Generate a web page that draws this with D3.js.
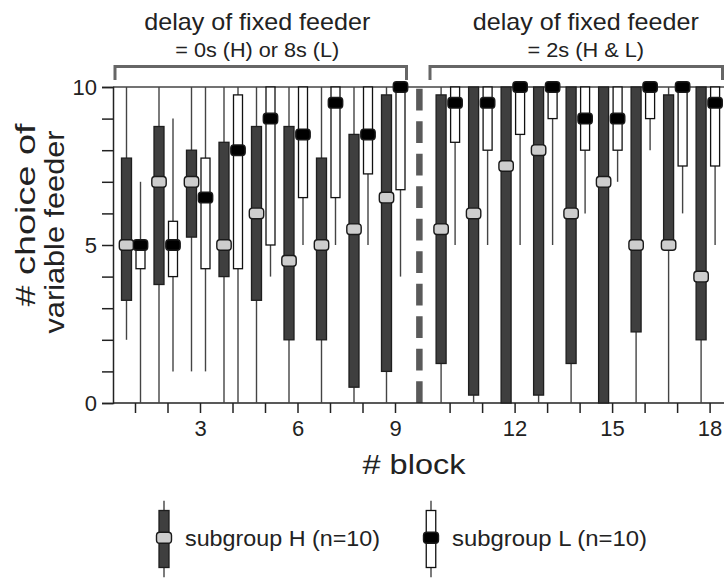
<!DOCTYPE html>
<html><head><meta charset="utf-8">
<script src="https://cdn.jsdelivr.net/npm/d3@7"></script>
<style>body{margin:0;background:#fff}svg{display:block;font-family:"Liberation Sans",Arial,sans-serif}</style>
</head><body><svg id="c" width="724" height="578"></svg>
<script>
const blocks = [1,2,3,4,5,6,7,8,9,10,11,12,13,14,15,16,17,18];
const hMin = [2,0,1,0,0,0,0,0,0, 0,0,0,0,0,0,0,0,0];
const hQ1  = [3.25,3.75,5.25,4,3.25,2,2,0.5,1, 1.25,0.25,0,0.25,1.25,0,2.25,5,2];
const hMed = [5,7,7,5,6,4.5,5,5.5,6.5, 5.5,6,7.5,8,6,7,5,5,4];
const hQ3  = [7.75,8.75,8,8.25,8.75,8.75,7.75,8.5,9.75, 9.75,10,10,10,10,10,10,9.75,10];
const hMax = [10,10,10,10,10,10,10,10,10, 10,10,10,10,10,10,10,10,10];
const lMin = [0,1,1,0,4,5,5,5,4, 5,5,5,5,6,7,8,6,5];
const lQ1  = [4.25,4,4.25,4.25,5,6.5,6.5,7.25,6.75, 8.25,8,8.5,9,8,8,9,7.5,7.5];
const lMed = [5,5,6.5,8,9,8.5,9.5,8.5,10, 9.5,9.5,10,10,9,9,10,10,9.5];
const lQ3  = [5,5.75,7.75,9.75,10,10,10,10,10, 10,10,10,10,10,10,10,10,10];
const lMax = [7,9,10,10,10,10,10,10,10, 10,10,10,10,10,10,10,10,10];
const xTickLabels = [3,6,9,12,15,18];
const yTickLabels = [0,5,10];
const phaseTitles = ["delay of fixed feeder","delay of fixed feeder"];
const phaseSubs = ["= 0s (H) or 8s (L)","= 2s (H & L)"];
const legendLabels = ["subgroup H (n=10)","subgroup L (n=10)"];

const svg = d3.select("#c");
const slot = b => b <= 9 ? b : b + 0.68;
const x = d3.scaleLinear().domain([1, 18.68]).range([135, 709.6]);
const y = d3.scaleLinear().domain([0, 10]).range([403, 87]);
const hOff = -8.5, lOff = 5.5;

// frame top line
svg.append("line").attr("x1", 113).attr("x2", 724).attr("y1", y(10)).attr("y2", y(10))
  .attr("stroke", "#444").attr("stroke-width", 1.5);

// dashed divider
svg.append("line").attr("x1", x(9.75)).attr("x2", x(9.75)).attr("y1", y(0)).attr("y2", y(10))
  .attr("stroke", "#5a5a5a").attr("stroke-width", 6.5).attr("stroke-dasharray", "21.7,10.8");

// axes
const yAxis = d3.axisLeft(y).tickValues(d3.range(0, 11)).tickSize(11).tickPadding(5)
  .tickFormat(d => yTickLabels.includes(d) ? d : "");
const gy = svg.append("g").attr("transform", "translate(113,0)").call(yAxis);
const xAxis = d3.axisBottom(x).tickValues(blocks.map(slot)).tickSize(10).tickPadding(7)
  .tickFormat((d, i) => xTickLabels.includes(blocks[i]) ? blocks[i] : "");
const gx = svg.append("g").attr("transform", "translate(0,403)").call(xAxis);
gx.select(".domain").attr("d", "M113,0H724");
[gx, gy].forEach(g => {
  g.select(".domain").attr("stroke", "#222").attr("stroke-width", 1.5);
  g.selectAll(".tick line").attr("stroke", "#222").attr("stroke-width", 1.5);
  g.selectAll(".tick text").attr("font-size", 22).attr("fill", "#222")
    .attr("font-family", "Liberation Sans, Arial, sans-serif");
});

// boxplots
function drawGroup(cls, off, mn, q1, md, q3, mx, bw, boxFill, boxStroke, medFill) {
  const g = svg.append("g").attr("class", cls);
  blocks.forEach((b, i) => {
    const cx = x(slot(b)) + off;
    if (mx[i] > q3[i]) g.append("line").attr("x1", cx).attr("x2", cx).attr("y1", y(q3[i])).attr("y2", y(mx[i]))
      .attr("stroke", "#444").attr("stroke-width", 1.4);
    if (mn[i] < q1[i]) g.append("line").attr("x1", cx).attr("x2", cx).attr("y1", y(q1[i])).attr("y2", y(mn[i]))
      .attr("stroke", "#444").attr("stroke-width", 1.4);
    g.append("rect").attr("x", cx - bw / 2).attr("width", bw)
      .attr("y", y(q3[i])).attr("height", Math.max(0.01, y(q1[i]) - y(q3[i])))
      .attr("fill", boxFill).attr("stroke", boxStroke).attr("stroke-width", 1.3);
  });
  blocks.forEach((b, i) => {
    const cx = x(slot(b)) + off;
    g.append("rect").attr("x", cx - 7.2).attr("width", 14.4).attr("y", y(md[i]) - 5.3).attr("height", 10.6)
      .attr("rx", 3.2).attr("fill", medFill).attr("stroke", "#1a1a1a").attr("stroke-width", 1.4);
  });
}
drawGroup("H", hOff, hMin, hQ1, hMed, hQ3, hMax, 10, "#3f3f3f", "#1e1e1e", "#cdcdcd");
drawGroup("L", lOff, lMin, lQ1, lMed, lQ3, lMax, 9, "#ffffff", "#111", "#000");

// brackets & titles
const br = [[115, 406.5], [430, 722.5]];
br.forEach(([a, b], i) => {
  svg.append("path").attr("d", `M${a},80V66.5H${b}V80`).attr("fill", "none")
    .attr("stroke", "#666").attr("stroke-width", 3);
  const cx = (a + b) / 2 + (i === 0 ? -3.5 : 9.5);
  svg.append("text").attr("x", cx).attr("y", 29.5).attr("text-anchor", "middle")
    .attr("font-size", 24).attr("fill", "#222").attr("textLength", 226).attr("lengthAdjust", "spacingAndGlyphs")
    .text(phaseTitles[i]);
  svg.append("text").attr("x", cx).attr("y", 57).attr("text-anchor", "middle")
    .attr("font-size", 19.5).attr("fill", "#222").attr("textLength", i === 0 ? 164 : 116.6).attr("lengthAdjust", "spacingAndGlyphs")
    .text(phaseSubs[i]);
});

// axis titles
svg.append("text").attr("transform", "translate(35,215) rotate(-90)").attr("text-anchor", "middle")
  .attr("font-size", 27).attr("fill", "#222").attr("textLength", 183).attr("lengthAdjust", "spacingAndGlyphs")
  .text("# choice of");
svg.append("text").attr("transform", "translate(64,232) rotate(-90)").attr("text-anchor", "middle")
  .attr("font-size", 27).attr("fill", "#222").attr("textLength", 203).attr("lengthAdjust", "spacingAndGlyphs")
  .text("variable feeder");
svg.append("text").attr("x", 414).attr("y", 474).attr("text-anchor", "middle")
  .attr("font-size", 28).attr("fill", "#222").attr("textLength", 103).attr("lengthAdjust", "spacingAndGlyphs")
  .text("# block");

// legend
const leg = [
  {cx: 164, bw: 10, fill: "#3f3f3f", stroke: "#1e1e1e", med: "#cdcdcd", tx: 185, label: legendLabels[0]},
  {cx: 431, bw: 9.5, fill: "#fff", stroke: "#111", med: "#000", tx: 452, label: legendLabels[1]}
];
leg.forEach(d => {
  const g = svg.append("g");
  g.append("line").attr("x1", d.cx).attr("x2", d.cx).attr("y1", 500.7).attr("y2", 577.3)
    .attr("stroke", "#444").attr("stroke-width", 1.4);
  g.append("rect").attr("x", d.cx - d.bw / 2).attr("width", d.bw).attr("y", 510.5).attr("height", 57)
    .attr("fill", d.fill).attr("stroke", d.stroke).attr("stroke-width", 1.3);
  g.append("rect").attr("x", d.cx - 7.5).attr("width", 15).attr("y", 532.3).attr("height", 11)
    .attr("rx", 3.3).attr("fill", d.med).attr("stroke", "#1a1a1a").attr("stroke-width", 1.4);
  g.append("text").attr("x", d.tx).attr("y", 545.5).attr("font-size", 22).attr("fill", "#222")
    .attr("textLength", 195).attr("lengthAdjust", "spacingAndGlyphs").text(d.label);
});
</script></body></html>
